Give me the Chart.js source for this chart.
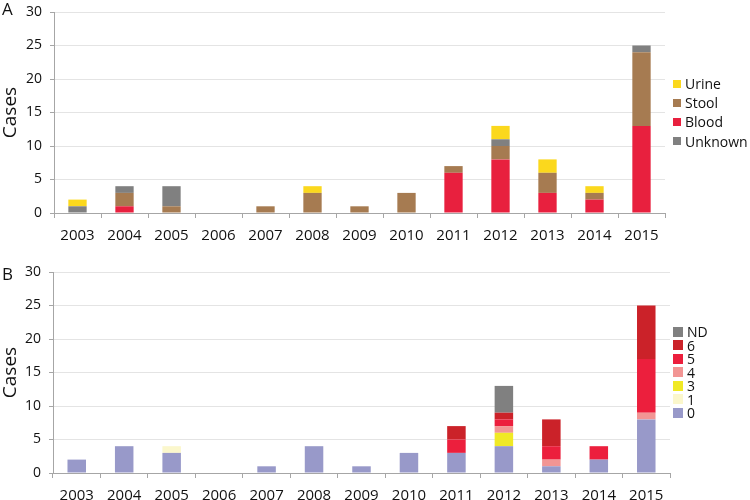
<!DOCTYPE html>
<html>
<head>
<meta charset="UTF-8">
<script src="https://cdn.jsdelivr.net/npm/chart.js"></script>
<style>
  html, body { margin: 0; overflow: hidden; }
  body { background: #fff; font-family: 'Open Sans', sans-serif; color: #111; }
  .panel { position: absolute; left: 0; width: 750px; }
  #wrapA { top: -3px; height: 256px; }
  #wrapB { top: 250px; height: 263px; }
  .tag { position: absolute; left: 2px; font-size: 17px; line-height: 17px; }
  .legend { position: absolute; left: 673px; font-size: 14px; }
  .legend div { display: flex; align-items: center; white-space: nowrap; }
  .legend span.box { display: inline-block; flex: none; }
</style>
</head>
<body>
<div class="panel" id="wrapA"><canvas id="chartA"></canvas></div>
<div class="panel" id="wrapB"><canvas id="chartB"></canvas></div>
<div class="tag" style="top:0px">A</div>
<div class="tag" style="top:265px">B</div>
<div class="legend" id="legA" style="top:74px"></div>
<div class="legend" id="legB" style="top:325px"></div>
<script>
const years = ['2003','2004','2005','2006','2007','2008','2009','2010','2011','2012','2013','2014','2015'];

// Panel A: sample type (stack order bottom to top)
const blood   = [0,1,0,0,0,0,0,0,6,8,3,2,13];
const stool   = [0,2,1,0,1,3,1,3,1,2,3,1,11];
const unknown = [1,1,3,0,0,0,0,0,0,1,0,0,1];
const urine   = [1,0,0,0,0,1,0,0,0,2,2,1,0];

// Panel B: groups 0..6 and ND
const g0 = [2,4,3,0,1,4,1,3,3,4,1,2,8];
const g1 = [0,0,1,0,0,0,0,0,0,0,0,0,0];
const g3 = [0,0,0,0,0,0,0,0,0,2,0,0,0];
const g4 = [0,0,0,0,0,0,0,0,0,1,1,0,1];
const g5 = [0,0,0,0,0,0,0,0,2,1,2,2,8];
const g6 = [0,0,0,0,0,0,0,0,2,1,4,0,8];
const gND = [0,0,0,0,0,0,0,0,0,4,0,0,0];

const yTicks = [0,5,10,15,20,25,30];
const fontFam = "'Open Sans', sans-serif";
const axisGray = '#a6a6a6';

function makeChart(id, datasets, pad, yWidth) {
  return new Chart(document.getElementById(id), {
    type: 'bar',
    data: { labels: years, datasets: datasets },
    options: {
      responsive: true,
      maintainAspectRatio: false,
      animation: false,
      layout: { padding: pad },
      datasets: { bar: { categoryPercentage: 1, barPercentage: 0.39 } },
      plugins: { legend: { display: false }, tooltip: { enabled: false } },
      scales: {
        x: {
          stacked: true,
          grid: { offset: true, drawOnChartArea: false, drawTicks: true, tickLength: 5, color: axisGray },
          border: { color: axisGray },
          ticks: { color: '#111', font: { family: fontFam, size: 15, lineHeight: 1 }, padding: 10, maxRotation: 0, autoSkip: false }
        },
        y: {
          stacked: true,
          min: 0, max: 30,
          afterBuildTicks: axis => { axis.ticks = yTicks.map(v => ({ value: v })); },
          afterFit: axis => { axis.width = yWidth; },
          grid: { color: '#e4e4e4', drawTicks: true, tickLength: 4, tickColor: axisGray },
          border: { color: axisGray },
          ticks: { color: '#111', font: { family: fontFam, size: 14, lineHeight: 1 }, padding: 8 },
          title: { display: true, text: 'Cases', color: '#111', font: { family: fontFam, size: 19, lineHeight: 1 }, padding: { top: 1, bottom: 0 } }
        }
      }
    }
  });
}

function makeLegend(id, chart, order, step, box) {
  const el = document.getElementById(id);
  order.forEach(name => {
    const ds = chart.data.datasets.find(d => d.label === name);
    const row = document.createElement('div');
    row.style.height = step + 'px';
    row.innerHTML = `<span class="box" style="width:${box}px;height:${box}px;background:${ds.backgroundColor};margin-right:4px"></span>${name}`;
    el.appendChild(row);
  });
}

const chartA = makeChart('chartA', [
  { label: 'Blood', data: blood, backgroundColor: '#e8203e' },
  { label: 'Stool', data: stool, backgroundColor: '#a67b51' },
  { label: 'Unknown', data: unknown, backgroundColor: '#808080' },
  { label: 'Urine', data: urine, backgroundColor: '#fbd81d' }
], { top: 5, right: 85, left: 0, bottom: 0 }, 54);

const chartB = makeChart('chartB', [
  { label: '0', data: g0, backgroundColor: '#9899c9' },
  { label: '1', data: g1, backgroundColor: '#fbf7cc' },
  { label: '3', data: g3, backgroundColor: '#f0e925' },
  { label: '4', data: g4, backgroundColor: '#f29594' },
  { label: '5', data: g5, backgroundColor: '#ec1f3d' },
  { label: '6', data: g6, backgroundColor: '#cb2229' },
  { label: 'ND', data: gND, backgroundColor: '#808080' }
], { top: 22, right: 80, left: 0, bottom: 0 }, 53);

makeLegend('legA', chartA, ['Urine','Stool','Blood','Unknown'], 19.2, 8);
makeLegend('legB', chartB, ['ND','6','5','4','3','1','0'], 13.5, 10);
</script>
</body>
</html>
